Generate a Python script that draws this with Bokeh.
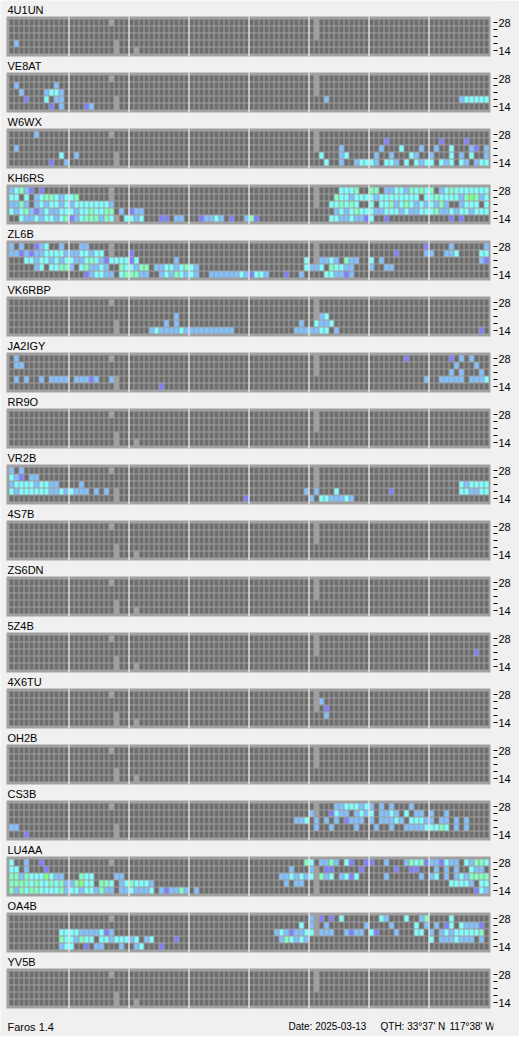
from bokeh.plotting import figure
from bokeh.models import Range1d, LinearAxis, FixedTicker, ColumnDataSource, Label
from bokeh.embed import file_html
from bokeh.resources import INLINE
from bokeh.core.properties import value

# ---------------- data ----------------
STATIONS = ["4U1UN", "VE8AT", "W6WX", "KH6RS", "ZL6B", "VK6RBP", "JA2IGY", "RR9O", "VR2B",
            "4S7B", "ZS6DN", "5Z4B", "4X6TU", "OH2B", "CS3B", "LU4AA", "OA4B", "YV5B"]
BANDS = ["28", "24", "21", "18", "14"]          # top row -> bottom row
N_SLOTS = 96                                     # 15-minute slots
HOUR_MARK_EVERY = 12                             # slots between white lines
# cell codes: '.' no signal, 'x' no data, '1'..'5' signal level
LEVEL_COLORS = {".": "#6e6e6e", "1": "#8080ff", "2": "#80c0ff", "3": "#80ffff",
                "4": "#80ffc0", "5": "#80ff80"}

S_4U1UN = ["............ ........x... ............ ............ ............ .x.......... ............ ............",
           "............ ............ ............ ............ ............ .x.......... ............ ............",
           "............ ............ ............ ............ ............ .x.......... ............ ............",
           ".2.......... .........x.. ............ ............ ............ ............ ............ ............",
           "............ .........x.. .x.......... ............ ............ ............ ............ ............"]
S_VE8AT = ["............ ........x... ............ ............ ............ .x.......... ............ ............",
           ".2.......2.. ............ ............ ............ ............ .x.......... ............ ............",
           "..2....2332. ............ ............ ............ ............ .x.......... ............ ............",
           "...1...3.22. .........x.. ............ ............ ............ ...2........ ............ ......233333",
           "........1.2. ...12....x.. ............ ............ ............ ............ ............ ............"]
S_W6WX = [".....2...... ........x... ............ ............ ............ .x.......... ............ ............",
          "............ ............ ............ ............ ............ .x.......... ...1........ ..1....1....",
          ".2.......... ............ ............ ............ ............ .x....2..... ..2...3...2. .2..3...21.2",
          "..........3. .2.......x.. ............ ............ ............ ..3...23.... .2..2...32.. 2...3.2.3..2",
          "........1..2 .........x.. ............ ............ ............ ...3..2..233 32.332.3.323 3.323.32.233"]
S_KH6RS = ["23421.1..... ........x... ............ ............ ............ .x....3334.. 44.223324343 4.2343333333",
           "33.3.2344323 34......x... ............ ............ ............ .x...4332333 3233333333.3 343333245423",
           "2242.2323323 233333332... ............ ............ ............ .x..334343.. 3.3342343232 3242..2333.3",
           "323421232233 323343344.2. 122......... ............ ............ .....2323433 322333232233 342232332333",
           "..3223233234 123444243x.3 323...11.22. ..12232.1..2 41.......... ....33223221 3..1........ ....1.1....."]
S_ZL6B = ["2.2..123..2. ..22....x... ............ ............ ............ .x.......... ...........1 ....2......2",
          "221212233332 2233233.x... 1........... ............ ............ .x.......... .....1.....2 2..223....33",
          "...332332323 322343213333 13.......2.. ............ ...........3 .x2232.422.. 3.2......... ..........21",
          ".....23.3344 2.342232..43 3244.2233234 32.......... ...........3 223.43322... 2..22....... ............",
          "............ ...123322.34 4422..232432 32..22222232 1332...1..2. ...332212... ............ ............"]
S_VK6RBP = ["............ ........x... ............ ............ ............ .x.......... ............ ............",
            "............ ............ ............ ............ ............ .x.......... ............ ............",
            "............ ............ .........2.. ............ ............ .x23........ ............ ............",
            "............ .........x.. .......2.2.. ............ ..........2. .3223....... ............ ............",
            "............ .........x.. ....23222232 222222222... .........222 2233.2...... ............ ..........1."]
S_JA2IGY = [".2.......... ........x... ............ ............ ............ .x.......... .......1.... ....1.2.2...",
            ".22......... ............ ............ ............ ............ .x.......... ............ .....2...2..",
            "............ ............ ............ ............ ............ .x.......... ............ ....2.2...2.",
            ".2.2..2.2222 .22212..2x.. ............ ............ ............ ............ ...........2 ..22222.2223",
            "............ .........x.. ......1..... ............ ............ ............ ............ ............"]
S_RR9O = ["............ ........x... ............ ............ ............ .x.......... ............ ............",
          "............ ............ ............ ............ ............ .x.......... ............ ............",
          "............ ............ ............ ............ ............ .x.......... ............ ............",
          "............ .........x.. ............ ............ ............ ............ ............ ............",
          "............ .........x.. .x.......... ............ ............ ............ ............ ............"]
S_VR2B = ["2.2......... ........x... ............ ............ ............ .x.......... ............ ............",
          "321.22...... ............ ............ ............ ............ .x.......... ............ ............",
          "2333323322.. ..2......... ............ ............ ............ .x.......... ............ ......323333",
          "323333332232 3222.2.2.x.. ............ ............ ...........2 .2...3...... ....1....... ......332233",
          "............ .........x.. ............ ...........1 ............ 2.3322232... ............ ............"]
S_4S7B = list(S_RR9O)
S_ZS6DN = list(S_RR9O)
S_5Z4B = ["............ ........x... ............ ............ ............ .x.......... ............ ............",
          "............ ............ ............ ............ ............ .x.......... ............ ............",
          "............ ............ ............ ............ ............ .x.......... ............ .........1..",
          "............ .........x.. ............ ............ ............ ............ ............ ............",
          "............ .........x.. .x.......... ............ ............ ............ ............ ............"]
S_4X6TU = ["............ ........x... ............ ............ ............ .x.......... ............ ............",
           "............ ............ ............ ............ ............ .x2......... ............ ............",
           "............ ............ ............ ............ ............ .x.1........ ............ ............",
           "............ .........x.. ............ ............ ............ ...2........ ............ ............",
           "............ .........x.. .x.......... ............ ............ ............ ............ ............"]
S_OH2B = list(S_RR9O)
S_CS3B = ["............ ........x... ............ ............ ............ .x...2233323 2.2.2...2... ............",
          "............ ............ ............ ............ ............ 2x..1322.232 3.2232.3.22. 2..2........",
          "............ ............ ............ ............ .........223 .2.2.2.1222. 2.22232.3332 2.22.2.2....",
          "22.......... .........x.. ............ ............ ............ .2..2....2.. .2..2..22223 3343.2.2....",
          "...1........ .........x.. ............ ............ ............ ............ ............ ............"]
S_LU4AA = ["3..2..1..... ........x... ............ ............ ...........4 3.2242.31..1 1..2...24341 221322.32443",
           "33.2...1.... ............ ............ ............ ........2... 2x.11.....1. .....1..11.. .2.2.2..322.",
           "44243335322. ..433....22. ............ ............ ......223232 3x423.2313.. ...2......2. 23.2.2324444",
           "444434334342 24533.443.23 43332....... ............ .......2.22. .x.......... ............ ....33332.33",
           "424344333342 332332422.22 32223.212242 .2.......... ............ .x.......... ............ .........132"]
S_OA4B = ["............ ........x... ............ ............ ............ 2x1.1.3..... ..32...3..24 ....3.......",
          "............ ............ ............ ............ ..........3. 2x.2.......2 ....2....3.2 .2.13.32221.",
          "..........33 332222312... ............ ............ .....2321223 3x222..2122. 31...2...33. 2.232333334.",
          "..........43 32433.332333 23.23....1.. ............ ......243232 ............ ............ 3.2223222.2.",
          "..........23 3..1.22...2. .23...1..... ............ ............ ............ ............ ............"]
S_YV5B = list(S_RR9O)

GRID = {"4U1UN": S_4U1UN, "VE8AT": S_VE8AT, "W6WX": S_W6WX, "KH6RS": S_KH6RS, "ZL6B": S_ZL6B,
        "VK6RBP": S_VK6RBP, "JA2IGY": S_JA2IGY, "RR9O": S_RR9O, "VR2B": S_VR2B, "4S7B": S_4S7B,
        "ZS6DN": S_ZS6DN, "5Z4B": S_5Z4B, "4X6TU": S_4X6TU, "OH2B": S_OH2B, "CS3B": S_CS3B,
        "LU4AA": S_LU4AA, "OA4B": S_OA4B, "YV5B": S_YV5B}

FOOTER_LEFT = "Faros 1.4"
FOOTER_DATE = "Date: 2025-03-13"
FOOTER_LAT = "QTH: 33\u00b037' N"
FOOTER_LON = "117\u00b038' W"

# ---------------- layout (x unit = one slot, y unit = one band row) ----------------
PANEL = 8            # rows per panel pitch
FIRST_ROW = 2        # centre of top band row inside panel
HALF_W = 0.4
HALF_H = 3 / 7
BG_TOP = 8 / 7
BG_BOT = 48 / 7

left, right, top, bottom, cols = [], [], [], [], []
for p, name in enumerate(STATIONS):
    for k, row in enumerate(GRID[name]):
        s = (row.replace(" ", "") + "." * N_SLOTS)[:N_SLOTS]
        for i, ch in enumerate(s):
            if ch == "x":
                continue
            yc = PANEL * p + FIRST_ROW + k
            left.append(i - HALF_W)
            right.append(i + HALF_W)
            top.append(yc - HALF_H)
            bottom.append(yc + HALF_H)
            cols.append(LEVEL_COLORS[ch])
cells = ColumnDataSource(dict(l=left, r=right, t=top, b=bottom, c=cols))

p = figure(frame_width=493, frame_height=1036,
           x_range=Range1d(-2.2, 96.4), y_range=Range1d(1028 / 7, -8 / 7),
           output_backend="svg", toolbar_location=None,
           x_axis_location=None, y_axis_location=None,
           min_border_left=0, min_border_right=26, min_border_top=0, min_border_bottom=0,
           background_fill_color="#f0f0f0", border_fill_color="#f0f0f0",
           outline_line_color=None)
p.grid.visible = False

n = len(STATIONS)
p.quad(left=[-1.0] * n, right=[N_SLOTS - 0.2] * n,
       top=[PANEL * i + BG_TOP for i in range(n)],
       bottom=[PANEL * i + BG_BOT for i in range(n)],
       fill_color="#a0a0a0", line_color=None)

p.quad(left="l", right="r", top="t", bottom="b", fill_color="c", line_color=None, source=cells)

hl, hr, ht, hb = [], [], [], []
for i in range(n):
    for h in range(HOUR_MARK_EVERY, N_SLOTS, HOUR_MARK_EVERY):
        hl.append(h - 0.6)
        hr.append(h - 0.4)
        ht.append(PANEL * i + BG_TOP)
        hb.append(PANEL * i + BG_BOT)
p.quad(left=hl, right=hr, top=ht, bottom=hb, fill_color="#ffffff", line_color=None)

label_y = [PANEL * i + 1 / 7 for i in range(n)]
p.text(x=[-0.8] * n, y=label_y, text=STATIONS, text_font=value("Liberation Sans"),
       text_font_size="11px", text_baseline="middle", text_align="left", text_color="#000000")

ticks, overrides = [], {}
for i in range(n):
    for k, b in enumerate(BANDS):
        t = PANEL * i + FIRST_ROW + k
        ticks.append(t)
        overrides[t] = b if k in (0, len(BANDS) - 1) else ""
ax = LinearAxis(ticker=FixedTicker(ticks=ticks), major_label_overrides=overrides,
                axis_line_color=None, major_tick_out=4, major_tick_in=0,
                minor_tick_out=0, minor_tick_in=0, major_tick_line_color="#000000",
                major_label_standoff=1, major_label_text_font="Liberation Sans",
                major_label_text_font_size="11px", major_label_text_color="#000000")
p.add_layout(ax, "right")

fkw = dict(text_font="Liberation Sans", text_font_size="10px", text_color="#000000",
           text_baseline="middle", text_align="left", y=1018 / 7)
p.add_layout(Label(x=-0.8, text=FOOTER_LEFT, **dict(fkw, text_font_size="11px")))
p.add_layout(Label(x=55.4, text=FOOTER_DATE, **fkw))
p.add_layout(Label(x=73.8, text=FOOTER_LAT, **fkw))
p.add_layout(Label(x=87.6, text=FOOTER_LON, **fkw))

open("out.html", "w").write(file_html(p, INLINE))
